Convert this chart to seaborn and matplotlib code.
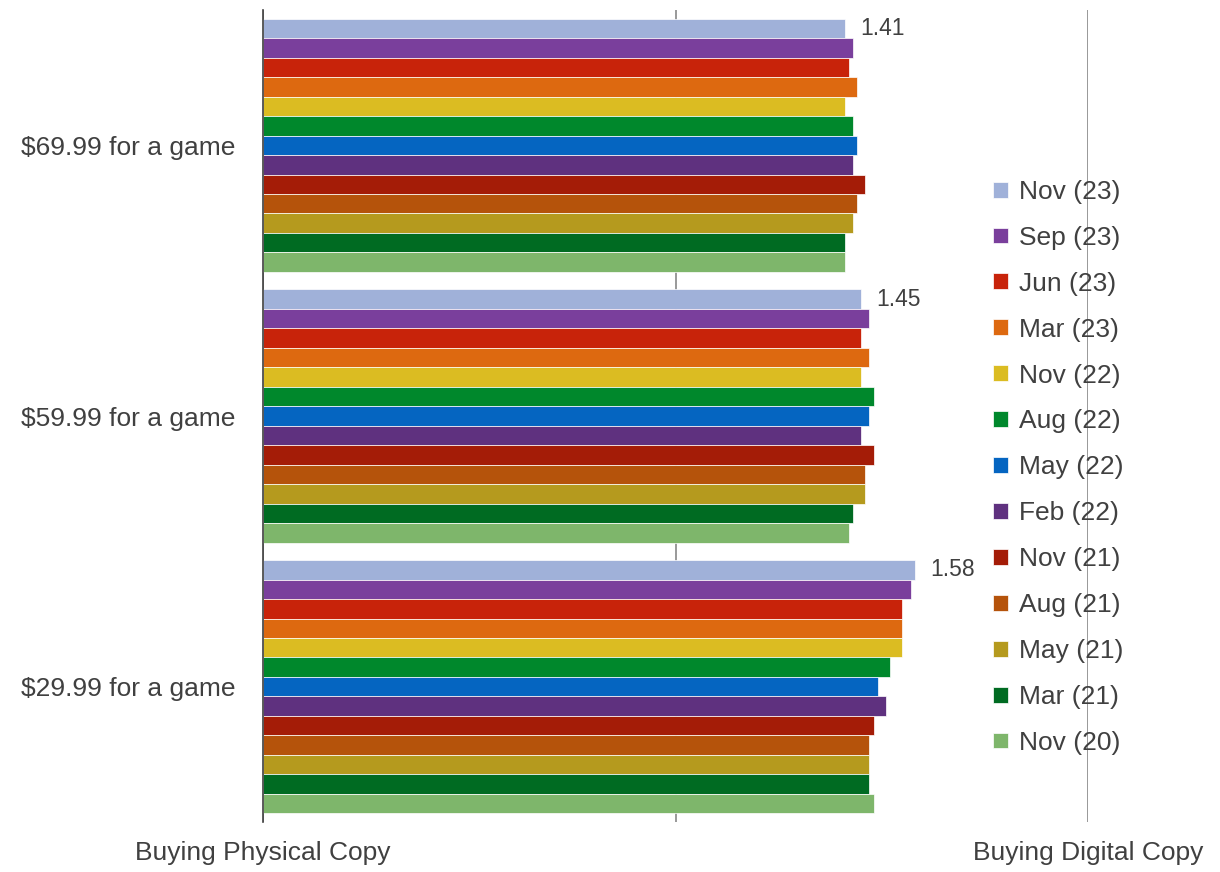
import pandas as pd
import matplotlib
matplotlib.use("Agg")
import matplotlib.pyplot as plt
import seaborn as sns

sns.set_style("white")
plt.rcParams["font.family"] = ["Liberation Sans", "DejaVu Sans"]

# data (0 = physical, 2 = digital)
categories = ["$69.99 for a game", "$59.99 for a game", "$29.99 for a game"]
periods = ["Nov (23)", "Sep (23)", "Jun (23)", "Mar (23)", "Nov (22)", "Aug (22)", "May (22)",
           "Feb (22)", "Nov (21)", "Aug (21)", "May (21)", "Mar (21)", "Nov (20)"]
vals_6999 = [1.41, 1.43, 1.42, 1.44, 1.41, 1.43, 1.44, 1.43, 1.46, 1.44, 1.43, 1.41, 1.41]
vals_5999 = [1.45, 1.47, 1.45, 1.47, 1.45, 1.48, 1.47, 1.45, 1.48, 1.46, 1.46, 1.43, 1.42]
vals_2999 = [1.58, 1.57, 1.55, 1.55, 1.55, 1.52, 1.49, 1.51, 1.48, 1.47, 1.47, 1.47, 1.48]
colors = ["#a0b1d9", "#7a3f9c", "#c8230a", "#dd6910", "#dbbc22", "#00882c", "#0565c1",
          "#5f317f", "#a41c07", "#b5530b", "#b59a1e", "#006b22", "#7eb66b"]

rows = []
for cat, vals in zip(categories, [vals_6999, vals_5999, vals_2999]):
    for p, v in zip(periods, vals):
        rows.append({"category": cat, "period": p, "value": v})
df = pd.DataFrame(rows)

txt = "#404040"
fig = plt.figure(figsize=(12.2, 8.72), dpi=100)
ax = fig.add_axes([0.2156, 0.0573, 0.6762, 0.9312])

sns.barplot(data=df, y="category", x="value", hue="period", order=categories,
            hue_order=periods, palette=colors, saturation=1, orient="h", width=0.935,
            edgecolor="white", linewidth=0.5, ax=ax)

# label only the latest wave
ax.bar_label(ax.containers[0], fmt="%.2f", padding=11, fontsize=16.5, color=txt)

ax.set_xlim(0, 2)
ax.set_ylim(2.5, -0.5)
ax.set_xticks([0, 1, 2])
ax.set_xticklabels(["Buying Physical Copy", "", "Buying Digital Copy"])
ax.grid(axis="x", color="#999999", linewidth=1.4)
ax.set_axisbelow(True)
ax.tick_params(axis="x", length=0, pad=14, labelsize=19, labelcolor=txt)
ax.tick_params(axis="y", length=0, pad=20, labelsize=19, labelcolor=txt)
ax.set_xlabel("")
ax.set_ylabel("")
for s in ["top", "right", "bottom"]:
    ax.spines[s].set_visible(False)
ax.spines["left"].set_color(txt)
ax.spines["left"].set_linewidth(1.2)

leg = ax.legend(loc="center left", bbox_to_anchor=(0.8035, 0.464),
                bbox_transform=fig.transFigure, frameon=False, fontsize=19,
                handlelength=0.55, handleheight=0.55, handletextpad=0.4,
                labelspacing=0.83, borderpad=0)
for t in leg.get_texts():
    t.set_color(txt)

plt.savefig("out.png", dpi=100)
plt.close()
